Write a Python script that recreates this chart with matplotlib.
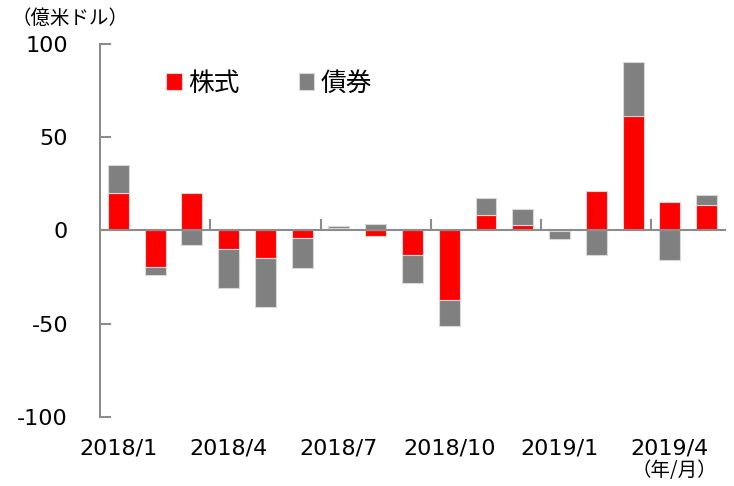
import numpy as np
import matplotlib
matplotlib.use("Agg")
import matplotlib.pyplot as plt
from matplotlib.transforms import blended_transform_factory

plt.rcParams['font.family'] = ['DejaVu Sans', 'Noto Sans CJK JP']
plt.rcParams['axes.unicode_minus'] = False
JP = ['Noto Sans CJK JP', 'DejaVu Sans']

# データ（億米ドル）
months = ['2018/1', '2018/2', '2018/3', '2018/4', '2018/5', '2018/6',
          '2018/7', '2018/8', '2018/9', '2018/10', '2018/11', '2018/12',
          '2019/1', '2019/2', '2019/3', '2019/4', '2019/5']
stocks = [20.0, -19.5, 20.0, -10.0, -14.7, -4.0, 1.5, -3.0, -13.3, -37.6,
          8.1, 2.7, -0.3, 21.3, 61.1, 15.0, 13.8]
bonds = [15.0, -4.5, -8.0, -20.8, -26.2, -16.3, 1.0, 3.2, -14.7, -13.8,
         9.3, 8.6, -4.4, -13.1, 29.4, -16.0, 5.4]
label_every = 3

x = np.arange(len(months))
s = np.array(stocks)
b = np.array(bonds)
# 同符号なら積み上げ、異符号なら0から
bond_bottom = np.where(np.sign(s) == np.sign(b), s, 0.0)

fig = plt.figure(figsize=(7.34, 4.86), dpi=100)
ax = fig.add_axes([0.1362, 0.1426, 0.8515, 0.7669])

edge = '#d8d8d8'
h1 = ax.bar(x, s, width=0.57, color='#ff0000', edgecolor=edge, linewidth=0.8, label='株式')
h2 = ax.bar(x, b, width=0.57, bottom=bond_bottom, color='#808080', edgecolor=edge,
            linewidth=0.8, label='債券')

ax.set_xlim(-0.5, len(months) - 0.5)
ax.set_ylim(-100, 100)
ax.set_yticks([-100, -50, 0, 50, 100])

axis_col = '#8c8c8c'
for sp in ['top', 'right']:
    ax.spines[sp].set_visible(False)
ax.spines['left'].set_color(axis_col)
ax.spines['left'].set_linewidth(1.5)
ax.spines['bottom'].set_position(('data', 0))
ax.spines['bottom'].set_color(axis_col)
ax.spines['bottom'].set_linewidth(1.5)

ax.tick_params(axis='y', direction='in', length=8, width=1.5, color=axis_col,
               labelsize=16, pad=23)
ax.set_xticks(np.arange(label_every - 0.5, len(months) - 0.5, label_every))
ax.tick_params(axis='x', direction='in', length=8, width=1.5, color=axis_col,
               labelbottom=False)

trans = blended_transform_factory(ax.transData, ax.transAxes)
for i in range(0, len(months), label_every):
    ax.text(i, -0.084, months[i], transform=trans, ha='center', va='center',
            fontsize=16)

fig.text(0.015, 0.963, '（億米ドル）', family=JP, fontsize=14, ha='left', va='center')
fig.text(0.86, 0.031, '（年/月）', family=JP, fontsize=14, ha='left', va='center')

ax.legend(handles=[h1, h2], loc='center left', bbox_to_anchor=(0.105, 0.893), ncol=2,
          frameon=False, prop={'family': JP, 'size': 18.5}, handlelength=0.62,
          handleheight=0.62, handletextpad=0.25, columnspacing=2.3,
          borderpad=0, borderaxespad=0)

fig.savefig('out.png', dpi=100)
